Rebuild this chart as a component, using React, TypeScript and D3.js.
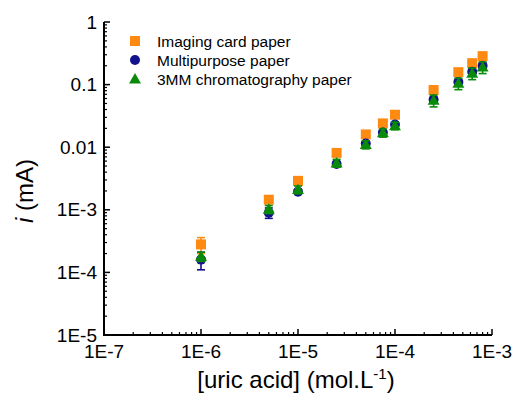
import React from "react";
import * as d3 from "d3";

const concentrations = [1e-6, 5e-6, 1e-5, 2.5e-5, 5e-5, 7.5e-5, 1e-4, 2.5e-4, 4.5e-4, 6.25e-4, 8e-4];
const imagingCard = [2.8e-4, 1.45e-3, 2.9e-3, 8.1e-3, 0.016, 0.024, 0.033, 0.082, 0.158, 0.22, 0.285];
const imagingCardErr = [0.8e-4, 0.1e-3, 0.2e-3, 0.5e-3, 0.001, 0.0015, 0.002, 0.005, 0.01, 0.014, 0.018];
const multipurpose = [1.6e-4, 0.9e-3, 1.95e-3, 5.4e-3, 0.0115, 0.0172, 0.023, 0.058, 0.11, 0.16, 0.2];
const multipurposeErr = [0.5e-4, 0.17e-3, 0.15e-3, 0.5e-3, 0.001, 0.0015, 0.002, 0.005, 0.01, 0.015, 0.02];
const chromatography = [1.8e-4, 1.02e-3, 2.1e-3, 5.6e-3, 0.011, 0.017, 0.022, 0.056, 0.105, 0.152, 0.19];
const chromatographyErr = [0.3e-4, 0.15e-3, 0.3e-3, 0.8e-3, 0.0016, 0.0025, 0.003, 0.012, 0.022, 0.032, 0.04];

const seriesNames = ["Imaging card paper", "Multipurpose paper", "3MM chromatography paper"];
const xTickValues = [1e-7, 1e-6, 1e-5, 1e-4, 1e-3];
const xTickLabels = ["1E-7", "1E-6", "1E-5", "1E-4", "1E-3"];
const yTickValues = [1e-5, 1e-4, 1e-3, 1e-2, 1e-1, 1];
const yTickLabels = ["1E-5", "1E-4", "1E-3", "0.01", "0.1", "1"];

const FONT = "'Liberation Sans', Arial, sans-serif";
const COLORS = ["#FF8A12", "#12128C", "#0A8A0A"];

export default function App() {
  const x = d3.scaleLog().domain([1e-7, 1e-3]).range([104, 492]);
  const y = d3.scaleLog().domain([1e-5, 1]).range([335, 22]);

  const minorX: number[] = [];
  for (let e = -7; e < -3; e++) for (let k = 2; k <= 9; k++) minorX.push(k * Math.pow(10, e));
  const minorY: number[] = [];
  for (let e = -5; e < 0; e++) for (let k = 2; k <= 9; k++) minorY.push(k * Math.pow(10, e));

  const series = [
    { vals: imagingCard, errs: imagingCardErr, shape: "square" },
    { vals: multipurpose, errs: multipurposeErr, shape: "circle" },
    { vals: chromatography, errs: chromatographyErr, shape: "triangle" },
  ];

  const sym = (shape: string) =>
    shape === "square"
      ? d3.symbol(d3.symbolSquare, 100)()
      : shape === "circle"
      ? d3.symbol(d3.symbolCircle, 78)()
      : d3.symbol(d3.symbolTriangle, 62)();

  return (
    <svg width={513} height={399} style={{ position: "absolute", left: 0, top: 0, background: "#fff" }}>
      {/* error bars + markers */}
      {series.map((s, si) => (
        <g key={si}>
          {s.vals.map((v, i) => {
            const cx = x(concentrations[i]);
            const lo = y(Math.max(v - s.errs[i], 1e-6));
            const hi = y(v + s.errs[i]);
            return (
              <g key={i} stroke={COLORS[si]} strokeWidth={1.6}>
                <line x1={cx} x2={cx} y1={lo} y2={hi} />
                <line x1={cx - 4} x2={cx + 4} y1={lo} y2={lo} />
                <line x1={cx - 4} x2={cx + 4} y1={hi} y2={hi} />
              </g>
            );
          })}
          {s.vals.map((v, i) => (
            <path
              key={"m" + i}
              d={sym(s.shape) || ""}
              transform={`translate(${x(concentrations[i])},${y(v) + (s.shape === "triangle" ? 1 : 0)})`}
              fill={COLORS[si]}
            />
          ))}
        </g>
      ))}

      {/* axes */}
      <g stroke="#000" fill="none">
        <line x1={104} x2={492} y1={y(1e-5)} y2={y(1e-5)} strokeWidth={2} />
        <line x1={x(1e-7)} x2={x(1e-7)} y1={y(1)} y2={y(1e-5) + 1} strokeWidth={2} />
        {xTickValues.map((v) => (
          <line key={"xt" + v} x1={x(v)} x2={x(v)} y1={y(1e-5)} y2={y(1e-5) - 6} strokeWidth={1.5} />
        ))}
        {minorX.map((v) => (
          <line key={"xm" + v} x1={x(v)} x2={x(v)} y1={y(1e-5)} y2={y(1e-5) - 3} strokeWidth={1.2} />
        ))}
        {yTickValues.map((v) => (
          <line key={"yt" + v} x1={x(1e-7)} x2={x(1e-7) + 6} y1={y(v)} y2={y(v)} strokeWidth={1.5} />
        ))}
        {minorY.map((v) => (
          <line key={"ym" + v} x1={x(1e-7)} x2={x(1e-7) + 3} y1={y(v)} y2={y(v)} strokeWidth={1.2} />
        ))}
      </g>

      {/* tick labels */}
      <g fontFamily={FONT} fontSize={19} fill="#000">
        {xTickValues.map((v, i) => (
          <text key={"xl" + v} x={x(v)} y={358} textAnchor="middle">
            {xTickLabels[i]}
          </text>
        ))}
        {yTickValues.map((v, i) => (
          <text key={"yl" + v} x={97} y={y(v)} textAnchor="end" dominantBaseline="central">
            {yTickLabels[i]}
          </text>
        ))}
      </g>

      {/* axis titles */}
      <text x={296} y={388} textAnchor="middle" fontFamily={FONT} fontSize={24}>
        [uric acid] (mol.L
        <tspan fontSize={15} dy={-9}>-1</tspan>
        <tspan dy={9}>)</tspan>
      </text>
      <text
        transform="translate(33,191) rotate(-90)"
        textAnchor="middle"
        fontFamily={FONT}
        fontSize={24}
      >
        <tspan fontStyle="italic">i</tspan> (mA)
      </text>

      {/* legend */}
      {seriesNames.map((name, i) => (
        <g key={name}>
          <path
            d={sym(series[i].shape) || ""}
            transform={`translate(135,${41 + i * 19 + (series[i].shape === "triangle" ? 1 : 0)})`}
            fill={COLORS[i]}
          />
          <text x={157} y={41 + i * 19} dominantBaseline="central" fontFamily={FONT} fontSize={15.5}>
            {name}
          </text>
        </g>
      ))}
    </svg>
  );
}
